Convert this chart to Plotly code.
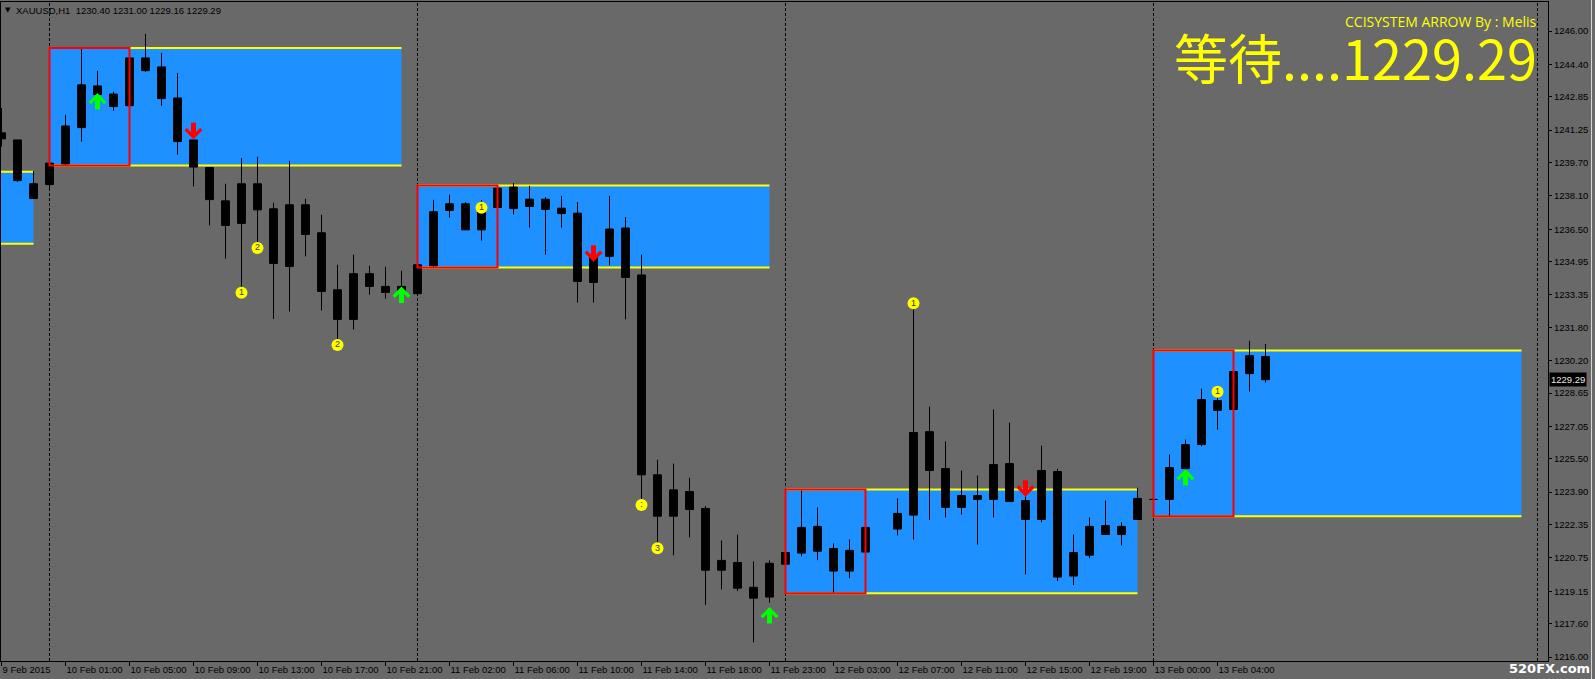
import plotly.graph_objects as go

# ---------------- data ----------------
bar_x = [i for i in range(80) if i != 55]
opens = [1241.12, 1240.78, 1238.68, 1238.64, 1239.63, 1241.37, 1243.37, 1242.98, 1242.42, 1244.71,
         1244.28, 1242.79, 1240.78, 1239.46, 1237.86, 1236.78, 1238.68, 1237.48, 1234.72, 1237.67,
         1236.33, 1233.60, 1232.18, 1234.37, 1233.76, 1233.52, 1233.41, 1234.75, 1237.40, 1237.72,
         1236.47, 1237.54, 1238.52, 1237.59, 1237.94, 1237.51, 1237.27, 1233.95, 1235.20, 1236.56,
         1234.31, 1224.73, 1222.75, 1223.93, 1223.12, 1220.16, 1220.53, 1219.34, 1218.87, 1220.45,
         1220.98, 1222.26, 1221.20, 1220.12, 1221.03,
         1222.13, 1222.80, 1226.80, 1225.03, 1223.17, 1223.74, 1223.55, 1225.27, 1223.50, 1222.59,
         1224.89, 1219.88, 1220.88, 1222.30, 1221.87, 1222.59, 1223.55, 1223.55, 1225.03, 1226.18,
         1228.29, 1227.86, 1229.58, 1230.40]
highs = [1242.31, 1240.78, 1239.30, 1239.67, 1241.98, 1245.14, 1244.09, 1243.09, 1244.71, 1245.86,
         1244.95, 1243.99, 1240.78, 1239.46, 1238.68, 1239.91, 1239.97, 1237.77, 1239.78, 1237.96,
         1237.19, 1234.80, 1235.28, 1234.75, 1234.70, 1234.51, 1234.80, 1237.91, 1238.15, 1237.80,
         1237.90, 1238.47, 1238.71, 1238.58, 1238.04, 1238.10, 1237.80, 1235.40, 1238.10, 1237.08,
         1235.28, 1225.46, 1225.27, 1224.59, 1223.23, 1221.59, 1221.87, 1220.58, 1220.63, 1221.01,
         1223.98, 1223.17, 1221.44, 1221.63, 1222.21,
         1223.60, 1232.73, 1228.00, 1226.33, 1224.94, 1224.70, 1227.86, 1227.23, 1223.70, 1226.13,
         1225.03, 1221.87, 1222.69, 1223.50, 1222.46, 1224.11, 1223.58, 1225.70, 1226.42, 1228.86,
         1228.91, 1229.68, 1231.16, 1231.00]
lows = [1240.46, 1238.77, 1237.97, 1238.35, 1239.54, 1240.70, 1242.85, 1242.18, 1242.42, 1244.05,
        1242.42, 1240.08, 1238.55, 1236.68, 1235.09, 1233.19, 1235.61, 1232.20, 1232.56, 1235.20,
        1232.61, 1231.21, 1231.69, 1233.36, 1233.17, 1233.40, 1233.41, 1234.64, 1237.06, 1236.47,
        1235.96, 1237.54, 1237.21, 1236.58, 1235.29, 1236.58, 1232.99, 1232.99, 1234.77, 1232.18,
        1223.39, 1221.24, 1220.87, 1221.73, 1218.49, 1219.24, 1219.16, 1216.70, 1218.60, 1220.45,
        1220.83, 1220.64, 1219.05, 1219.78, 1221.03,
        1221.83, 1221.63, 1222.56, 1222.69, 1222.83, 1221.39, 1222.69, 1223.45, 1219.96, 1222.46,
        1219.64, 1219.45, 1220.74, 1221.87, 1221.35, 1222.59, 1223.52, 1222.75, 1224.90, 1226.10,
        1226.90, 1227.86, 1228.72, 1229.16]
closes = [1240.83, 1238.83, 1237.97, 1239.67, 1241.45, 1243.42, 1242.95, 1242.38, 1244.71, 1244.10,
          1242.76, 1240.70, 1239.48, 1237.92, 1236.68, 1238.68, 1237.43, 1234.86, 1237.67, 1236.25,
          1233.52, 1232.18, 1234.37, 1233.76, 1233.47, 1233.76, 1234.80, 1237.34, 1237.72, 1236.47,
          1237.43, 1238.47, 1237.49, 1237.94, 1237.45, 1237.25, 1234.00, 1235.17, 1236.51, 1234.19,
          1224.73, 1222.75, 1224.01, 1223.07, 1220.16, 1220.63, 1219.30, 1218.82, 1220.49, 1221.01,
          1222.21, 1221.07, 1220.12, 1221.11, 1222.21,
          1222.88, 1226.76, 1224.94, 1223.17, 1223.74, 1223.55, 1225.22, 1223.45, 1222.59, 1224.94,
          1219.83, 1221.01, 1222.26, 1221.87, 1222.26, 1223.60, 1223.55, 1225.08, 1226.18, 1228.34,
          1227.82, 1229.68, 1230.44, 1229.29]

# daily zones (bar index start/end, price bottom/top) and first-6-bar boxes
zone_start = [-3, 3, 26, 49, 72]
zone_end = [2, 25, 48, 71, 95]
zone_low = [1235.80, 1239.55, 1234.67, 1219.05, 1222.75]
zone_high = [1239.26, 1245.19, 1238.59, 1224.03, 1230.69]
box_start = [3, 26, 49, 72]
box_end = [8, 31, 54, 77]
box_low = [1239.55, 1234.67, 1219.05, 1222.75]
box_high = [1245.19, 1238.59, 1224.03, 1230.69]

day_separators = [3, 26, 49, 72, 96]

up_arrow_x = [6, 25, 48, 74]
up_arrow_y = [1243.03, 1233.75, 1218.40, 1225.01]
down_arrow_x = [12, 37, 64]
down_arrow_y = [1240.81, 1234.94, 1223.68]

dot_x = [15, 16, 21, 30, 40, 41, 57, 76]
dot_y = [1233.46, 1235.60, 1230.95, 1237.53, 1223.29, 1221.21, 1232.95, 1228.71]
dot_text = ["1", "2", "2", "1", ":", "3", "1", "1"]

ytick_vals = [1246.00, 1244.40, 1242.85, 1241.25, 1239.70, 1238.10, 1236.50, 1234.95, 1233.35, 1231.80,
              1230.20, 1228.65, 1227.05, 1225.50, 1223.90, 1222.35, 1220.75, 1219.15, 1217.60, 1216.00]
xtick_idx = [0, 4, 8, 12, 16, 20, 24, 28, 32, 36, 40, 44, 48, 52, 56, 60, 64, 68, 72, 76]
xtick_text = ["9 Feb 2015", "10 Feb 01:00", "10 Feb 05:00", "10 Feb 09:00", "10 Feb 13:00",
              "10 Feb 17:00", "10 Feb 21:00", "11 Feb 02:00", "11 Feb 06:00", "11 Feb 10:00",
              "11 Feb 14:00", "11 Feb 18:00", "11 Feb 23:00", "12 Feb 03:00", "12 Feb 07:00",
              "12 Feb 11:00", "12 Feb 15:00", "12 Feb 19:00", "13 Feb 00:00", "13 Feb 04:00"]

symbol = "XAUUSD,H1"
last_price = closes[-1]

# ---------------- layout geometry ----------------
W, H = 1595, 679
PL, PR, PT, PB = 1, 1548, 2, 661
BAR_PX = 16.0
X0_PX = 1.5
PX_PER_UNIT = 20.867
Y_REF_PRICE, Y_REF_PX = 1246.0, 31.0

x_range = [(PL - X0_PX) / BAR_PX, (PR - X0_PX) / BAR_PX]
y_range = [Y_REF_PRICE - (PB - Y_REF_PX) / PX_PER_UNIT, Y_REF_PRICE + (Y_REF_PX - PT) / PX_PER_UNIT]


def pxx(px):
    return (px - PL) / (PR - PL)


def pxy(py):
    return (PB - py) / (PB - PT)


BG = "#696969"
BLUE = "#1E90FF"
YEL = "#FFFF00"
AXFONT = dict(family="Liberation Sans, Arial, sans-serif", size=9.5, color="#000000")

fig = go.Figure()

fig.add_trace(go.Candlestick(
    x=bar_x, open=opens, high=highs, low=lows, close=closes,
    increasing=dict(line=dict(color="#000000", width=1), fillcolor="#000000"),
    decreasing=dict(line=dict(color="#000000", width=1), fillcolor="#000000"),
    whiskerwidth=0, showlegend=False, hoverinfo="skip",
))

fig.add_trace(go.Scatter(
    x=dot_x, y=dot_y, mode="markers+text", text=dot_text,
    textposition="middle center",
    textfont=dict(family="Liberation Sans, Arial, sans-serif", size=9, color="#3c3c14"),
    marker=dict(size=12, color=YEL, line=dict(width=0)),
    showlegend=False, hoverinfo="skip",
))

shapes = []
for xs, xe, lo, hi in zip(zone_start, zone_end, zone_low, zone_high):
    shapes.append(dict(type="rect", xref="x", yref="y", x0=xs, x1=xe, y0=lo, y1=hi,
                       fillcolor=BLUE, line=dict(width=0), layer="below"))
for xs, xe, lo, hi in zip(zone_start, zone_end, zone_low, zone_high):
    for yv in (lo, hi):
        shapes.append(dict(type="line", xref="x", yref="y", x0=xs, x1=xe, y0=yv, y1=yv,
                           line=dict(color=YEL, width=2), layer="below"))
for xd in day_separators:
    shapes.append(dict(type="line", xref="x", yref="paper", x0=xd, x1=xd, y0=0, y1=1,
                       line=dict(color="#000000", width=1, dash="3px,2px"), layer="below"))
for xs, xe, lo, hi in zip(box_start, box_end, box_low, box_high):
    shapes.append(dict(type="rect", xref="x", yref="y", x0=xs, x1=xe, y0=lo, y1=hi,
                       line=dict(color="#FF0000", width=2), fillcolor="rgba(0,0,0,0)", layer="above"))
# window border on the far right
shapes.append(dict(type="line", xref="paper", yref="paper", x0=pxx(1591.5), x1=pxx(1591.5),
                   y0=pxy(679), y1=pxy(0), line=dict(color="#d4d4d4", width=1)))

annotations = []
for xa, ya in zip(up_arrow_x, up_arrow_y):
    annotations.append(dict(x=xa, y=ya, xref="x", yref="y", ax=0, ay=18, text="",
                            showarrow=True, arrowhead=4, arrowsize=0.6, arrowwidth=5,
                            arrowcolor="#00FF00", standoff=0))
for xa, ya in zip(down_arrow_x, down_arrow_y):
    annotations.append(dict(x=xa, y=ya, xref="x", yref="y", ax=0, ay=-18, text="",
                            showarrow=True, arrowhead=4, arrowsize=0.6, arrowwidth=5,
                            arrowcolor="#FF0000", standoff=0))

annotations.append(dict(xref="paper", yref="paper", x=pxx(3), y=pxy(10.5), xanchor="left",
                        yanchor="middle", showarrow=False, text="▼",
                        font=dict(family="DejaVu Sans", size=7, color="#000000")))
annotations.append(dict(xref="paper", yref="paper", x=pxx(14), y=pxy(10.5), xanchor="left",
                        yanchor="middle", showarrow=False,
                        text=symbol + "\u00a0\u00a0" + " ".join(f"{v:.2f}" for v in
                                                                 (opens[-1], highs[-1], lows[-1], closes[-1])),
                        font=AXFONT))
annotations.append(dict(xref="paper", yref="paper", x=pxx(1539), y=pxy(22), xanchor="right",
                        yanchor="middle", showarrow=False, text="CCISYSTEM ARROW By : Melis",
                        font=dict(family="Open Sans, sans-serif", size=14, color=YEL)))
annotations.append(dict(xref="paper", yref="paper", x=pxx(1539), y=pxy(56), xanchor="right",
                        yanchor="middle", showarrow=False, text=f"等待....{last_price:.2f}",
                        font=dict(family="Noto Sans CJK SC, sans-serif", size=54, color=YEL)))
annotations.append(dict(xref="paper", yref="y", x=pxx(1548.5), y=last_price, xanchor="left",
                        yanchor="middle", showarrow=False, text=f"{last_price:.2f}",
                        bgcolor="#000000", borderpad=1,
                        font=dict(family="Liberation Sans, Arial, sans-serif", size=9.5, color="#e6e6e6")))
annotations.append(dict(xref="paper", yref="paper", x=pxx(1592), y=pxy(668), xanchor="right",
                        yanchor="middle", showarrow=False, text="<b>520FX.com</b>",
                        font=dict(family="DejaVu Sans, sans-serif", size=13, color="#ffffff")))

fig.update_layout(
    width=W, height=H,
    margin=dict(l=PL, r=W - PR, t=PT, b=H - PB, pad=0, autoexpand=False),
    paper_bgcolor=BG, plot_bgcolor=BG,
    showlegend=False,
    shapes=shapes, annotations=annotations,
    xaxis=dict(range=x_range, showgrid=False, zeroline=False, rangeslider=dict(visible=False),
               tickmode="array", tickvals=xtick_idx, ticktext=xtick_text, tickangle=0,
               automargin=False,
               ticks="outside", ticklen=4, tickcolor="#000000", tickwidth=1,
               ticklabelposition="outside right", tickfont=AXFONT,
               showline=True, linecolor="#000000", linewidth=1, mirror=True),
    yaxis=dict(range=y_range, side="right", showgrid=False, zeroline=False, automargin=False,
               tickmode="array", tickvals=ytick_vals, ticktext=[f"{v:.2f}" for v in ytick_vals],
               ticks="outside", ticklen=3, tickcolor="#000000", tickwidth=1, tickfont=AXFONT,
               showline=True, linecolor="#000000", linewidth=1, mirror=True),
)

fig.write_html("out.html", config={"displayModeBar": False},
               post_script="document.body.style.margin='0';document.body.style.overflow='hidden';")
